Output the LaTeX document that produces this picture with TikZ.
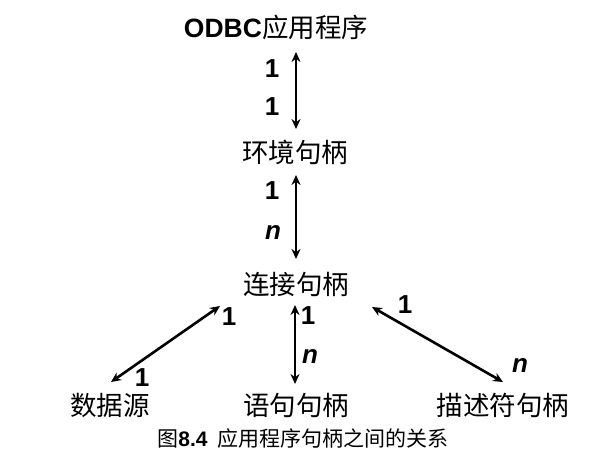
\documentclass[tikz,border=0pt]{standalone}
\usepackage{fontspec}
\setmainfont{Liberation Sans}
\newfontfamily\cjk{Noto Sans CJK SC}
\usetikzlibrary{arrows.meta}
\begin{document}
\begin{tikzpicture}[x=1pt,y=-1pt,
  lbl/.style={font=\fontsize{26.5}{28}\selectfont\cjk, inner sep=0pt, anchor=center},
  num/.style={font=\fontsize{26}{27}\selectfont\bfseries, inner sep=0pt, anchor=center},
  numn/.style={font=\fontsize{26}{27}\selectfont\bfseries\itshape, inner sep=0pt, anchor=center},
  rel/.style={line width=2.6pt, {Stealth[length=10pt,width=9pt]}-{Stealth[length=10pt,width=9pt]}}]
\useasboundingbox (0,0) rectangle (612,473);
% nodes
\node[lbl] (odbc) at (276,27) {{\bfseries\rmfamily ODBC}应用程序};
\node[lbl] (env) at (295,152) {环境句柄};
\node[lbl] (conn) at (296,284) {连接句柄};
\node[lbl] (ds) at (110,405) {数据源};
\node[lbl] (stmt) at (296,405) {语句句柄};
\node[lbl] (desc) at (503,405) {描述符句柄};
\node[font=\fontsize{21}{23}\selectfont\cjk, inner sep=0pt] (cap) at (303,439) {图{\rmfamily\bfseries 8.4}\hspace{10pt}应用程序句柄之间的关系};
% arrow ends
\coordinate (a1s) at (296,52);
\coordinate (a1e) at (296,129);
\coordinate (a2s) at (296,175);
\coordinate (a2e) at (296,259);
\coordinate (a3s) at (220,306);
\coordinate (a3e) at (111,382);
\coordinate (a4s) at (295,305);
\coordinate (a4e) at (295,384);
\coordinate (a5s) at (372,307);
\coordinate (a5e) at (503,382);
\draw[rel] (a1s) -- (a1e);
\draw[rel] (a2s) -- (a2e);
\draw[rel] (a3s) -- (a3e);
\draw[rel] (a4s) -- (a4e);
\draw[rel] (a5s) -- (a5e);
% labels
\node[num] (l1a) at (272,69) {1};
\node[num] (l1b) at (272,107) {1};
\node[num] (l2a) at (272,191) {1};
\node[numn] (l2b) at (273,233) {n};
\node[num] (l3a) at (229,317) {1};
\node[num] (l3b) at (142,378) {1};
\node[num] (l4a) at (308,316) {1};
\node[numn] (l4b) at (310,357) {n};
\node[num] (l5a) at (405,305) {1};
\node[numn] (l5b) at (520,366) {n};
\end{tikzpicture}
\end{document}
